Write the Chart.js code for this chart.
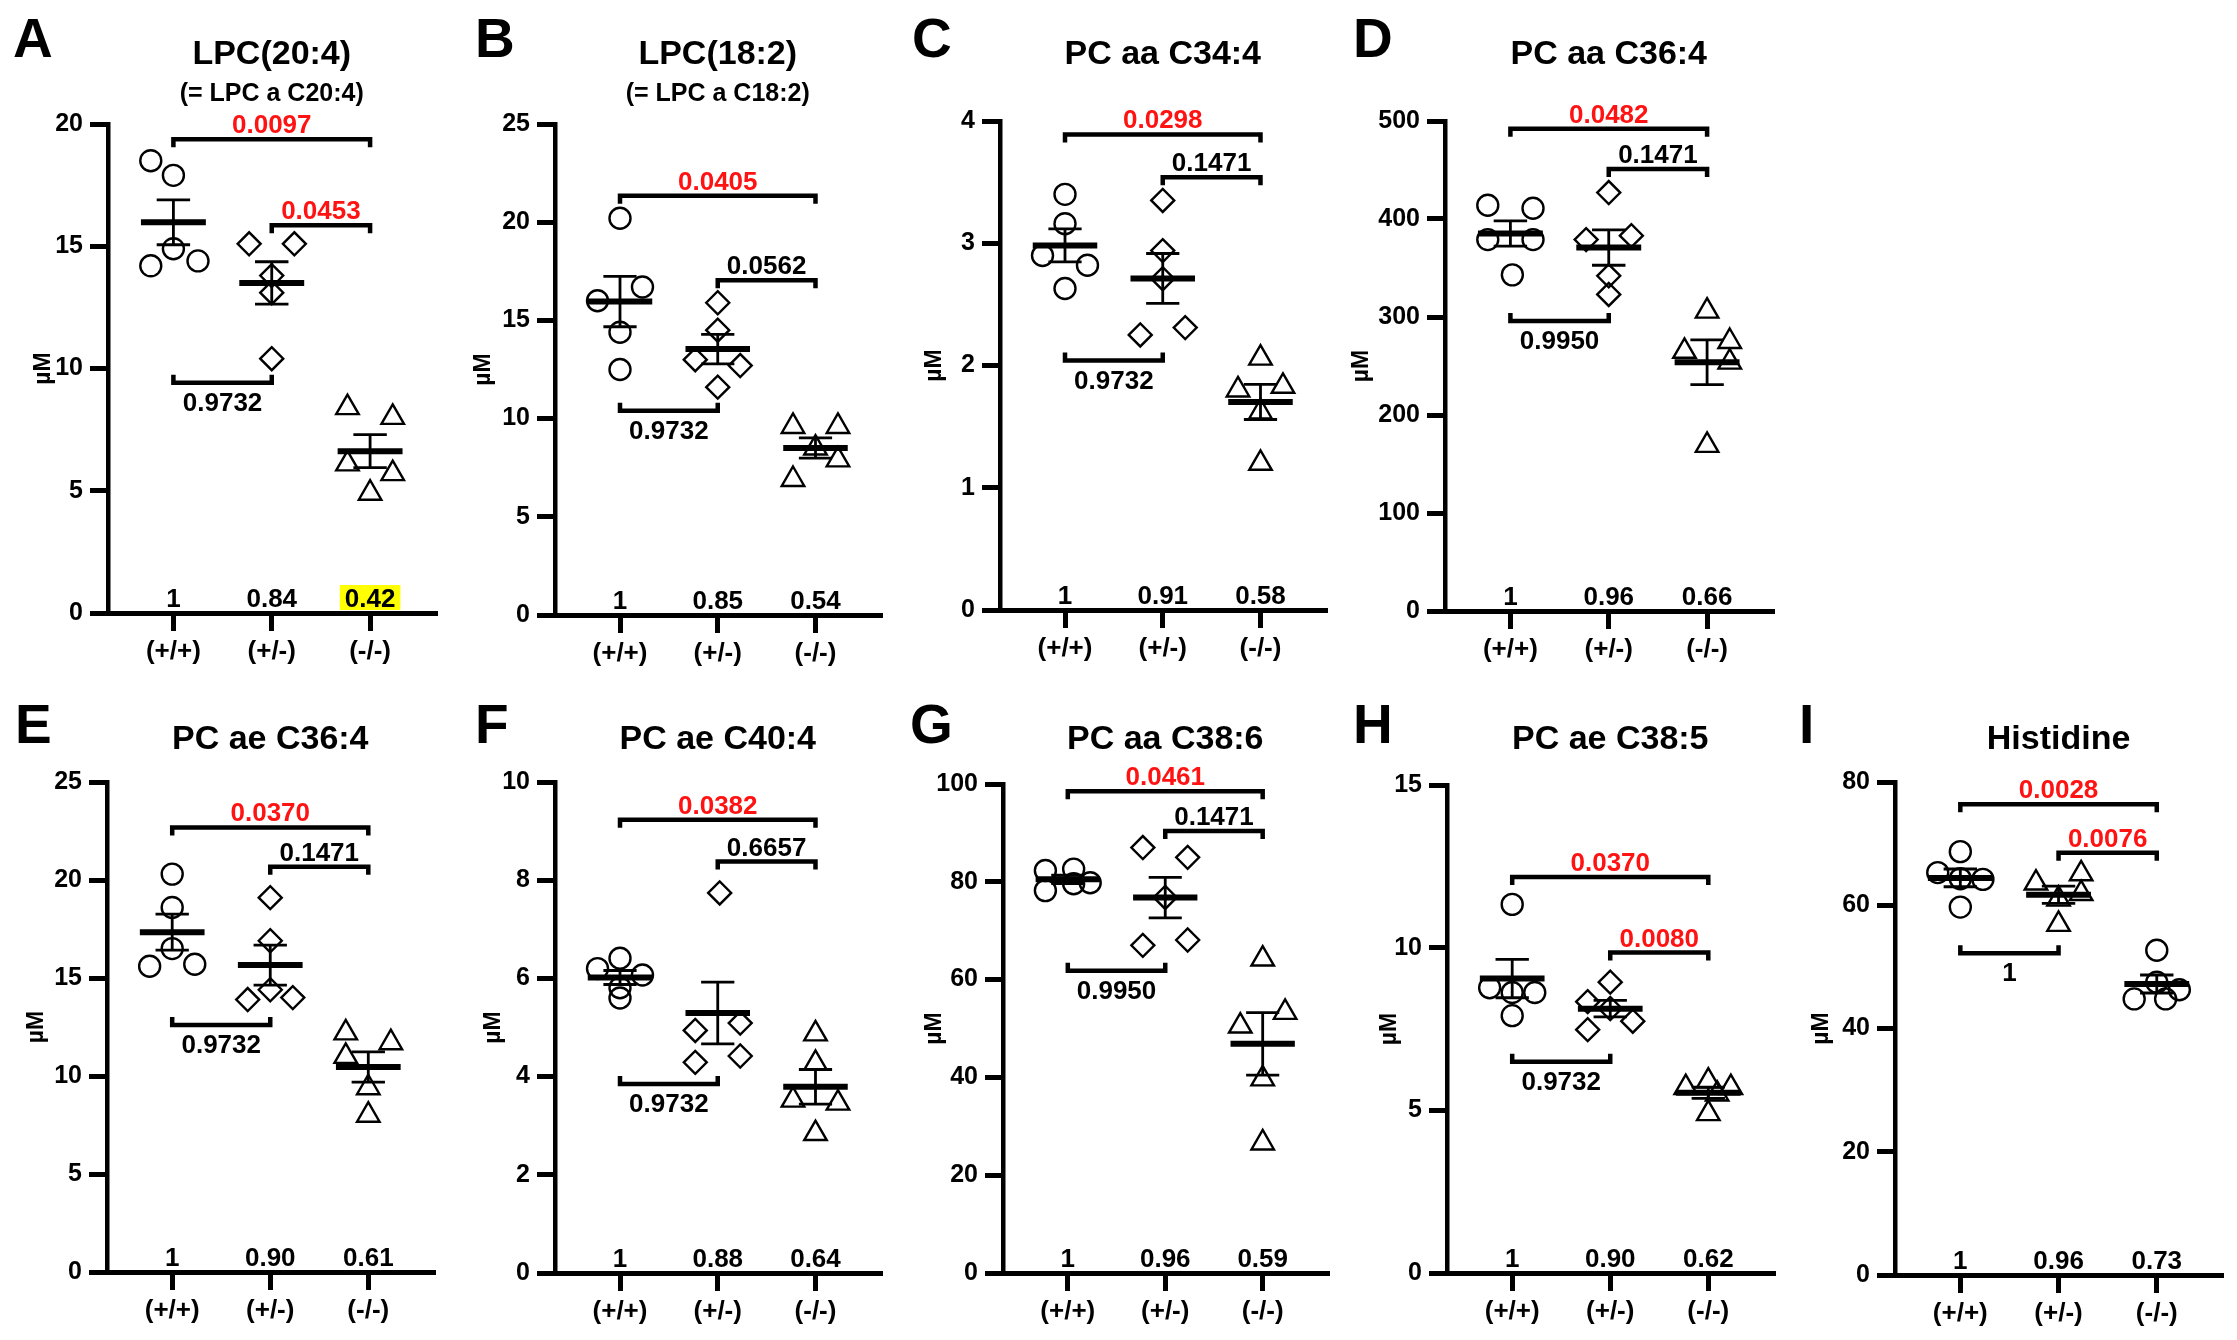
<!DOCTYPE html>
<html>
<head>
<meta charset="utf-8">
<title>Metabolite levels by genotype</title>
<script src="https://cdn.jsdelivr.net/npm/chart.js@4.4.1/dist/chart.umd.min.js"></script>
<style>
  html, body { margin: 0; padding: 0; background: #fff; }
  #page { position: relative; width: 2237px; height: 1340px; overflow: hidden; background: #fff; }
  #page canvas { position: absolute; left: 0; top: 0; }
</style>
</head>
<body>
<div id="page"></div>
<script>
// genotype groups on the x axis
const groups = ["(+/+)", "(+/-)", "(-/-)"];

// measured values (µM), one list per genotype: [+/+, +/-, -/-]
const lpc204 = [[18.5, 17.9, 14.9, 14.2, 14.4], [15.1, 15.1, 13.8, 13.1, 10.4], [8.4, 8.0, 6.1, 5.7, 4.9]];
const lpc182 = [[20.2, 16.7, 16.0, 14.4, 12.5], [15.9, 14.5, 13.0, 12.7, 11.6], [9.6, 9.6, 8.5, 7.9, 6.9]];
const pcaa344 = [[3.40, 3.16, 2.90, 2.82, 2.63], [3.35, 2.94, 2.71, 2.25, 2.31], [2.06, 1.80, 1.83, 1.62, 1.20]];
const pcaa364 = [[414, 411, 379, 379, 343], [427, 379, 383, 342, 323], [306, 265, 275, 254, 169]];
const pcae364 = [[20.3, 18.6, 16.5, 15.6, 15.7], [19.1, 16.9, 14.4, 13.9, 14.0], [12.2, 11.7, 11.0, 9.4, 8.0]];
const pcae404 = [[6.41, 6.20, 6.07, 5.81, 5.60], [7.74, 4.94, 5.09, 4.29, 4.42], [4.87, 4.27, 3.52, 3.46, 2.84]];
const pcaa386 = [[82.3, 82.6, 78.2, 79.6, 79.8], [87.0, 85.0, 76.8, 67.0, 68.1], [64.2, 50.5, 53.3, 39.7, 26.6]];
const pcae385 = [[11.33, 8.77, 8.62, 8.62, 7.91], [8.94, 8.34, 8.13, 7.74, 7.48], [5.9, 5.7, 5.7, 5.5, 4.9]];
const histidine = [[68.7, 65.3, 64.3, 64.2, 59.7], [63.6, 65.1, 61.0, 61.9, 56.9], [52.7, 47.5, 46.3, 44.8, 44.8]];

// y tick labels
const ticksA = [0, 5, 10, 15, 20];
const ticksB = [0, 5, 10, 15, 20, 25];
const ticksC = [0, 1, 2, 3, 4];
const ticksD = [0, 100, 200, 300, 400, 500];
const ticksE = [0, 5, 10, 15, 20, 25];
const ticksF = [0, 2, 4, 6, 8, 10];
const ticksG = [0, 20, 40, 60, 80, 100];
const ticksH = [0, 5, 10, 15];
const ticksI = [0, 20, 40, 60, 80];

// p values: [(+/+) vs (-/-), (+/-) vs (-/-), (+/+) vs (+/-)]
const pA = ["0.0097", "0.0453", "0.9732"];
const pB = ["0.0405", "0.0562", "0.9732"];
const pC = ["0.0298", "0.1471", "0.9732"];
const pD = ["0.0482", "0.1471", "0.9950"];
const pE = ["0.0370", "0.1471", "0.9732"];
const pF = ["0.0382", "0.6657", "0.9732"];
const pG = ["0.0461", "0.1471", "0.9950"];
const pH = ["0.0370", "0.0080", "0.9732"];
const pI = ["0.0028", "0.0076", "1"];

// fold change vs (+/+)
const foldA = ["1", "0.84", "0.42"];
const foldB = ["1", "0.85", "0.54"];
const foldC = ["1", "0.91", "0.58"];
const foldD = ["1", "0.96", "0.66"];
const foldE = ["1", "0.90", "0.61"];
const foldF = ["1", "0.88", "0.64"];
const foldG = ["1", "0.96", "0.59"];
const foldH = ["1", "0.90", "0.62"];
const foldI = ["1", "0.96", "0.73"];

// ---- layout (positions, not data) ----
const W = 2237, H = 1340;
const FONT = "'Liberation Sans', Arial, Helvetica, sans-serif";
const RED = "#ff1212";
const J = 0.23; // horizontal spread of overlapping points, in group units
const pairs = [[0, 2], [1, 2], [0, 1]];
const letterY = [42, 728];
const titleY = [55, 740];
const subY = 94;
const std3 = ["circle", "rectRot", "triangle"];

const panels = [
  { letter: "A", title: "LPC(20:4)", sub: "(= LPC a C20:4)", values: lpc204, ticks: ticksA, p: pA, fold: foldA,
    box: [108, 435, 124, 613], row: 0, wy: 78, ldx: 95, markers: std3, levels: [19.38, 15.86, 9.42], highlight: 2,
    jitter: [[-J, 0, 0, -J, J + 0.02], [-J, J, 0, 0, 0], [-J, J, -J, J, 0]] },
  { letter: "B", title: "LPC(18:2)", sub: "(= LPC a C18:2)", values: lpc182, ticks: ticksB, p: pB, fold: foldB,
    box: [555, 880, 124, 615], row: 0, wy: 85, ldx: 80, markers: std3, levels: [21.35, 17.04, 10.4],
    jitter: [[0, J, -J, 0, 0], [0, 0, -J, J, 0], [-J, J, 0, J, -J]] },
  { letter: "C", title: "PC aa C34:4", values: pcaa344, ticks: ticksC, p: pC, fold: foldC,
    box: [1000, 1325, 121, 610], row: 0, wy: 79, ldx: 88, markers: std3, levels: [3.89, 3.54, 2.04],
    jitter: [[0, 0, -J, J, 0], [0, 0, 0, -J, J], [0, -J, J, 0, 0]] },
  { letter: "D", title: "PC aa C36:4", values: pcaa364, ticks: ticksD, p: pD, fold: foldD,
    box: [1445, 1772, 121, 611], row: 0, wy: 97, ldx: 92, markers: std3, levels: [492, 451, 296],
    jitter: [[-J, J, -J, J, 0.02], [0, -J, J, 0, 0], [0, -J, J, J, 0]] },
  { letter: "E", title: "PC ae C36:4", values: pcae364, ticks: ticksE, p: pE, fold: foldE,
    box: [107, 433, 782, 1272], row: 1, wy: 84, ldx: 92, markers: std3, levels: [22.68, 20.67, 12.6],
    jitter: [[0, 0, 0, -J, J], [0, 0, 0, -J, J], [-J, J, -J, 0, 0]] },
  { letter: "F", title: "PC ae C40:4", values: pcae404, ticks: ticksF, p: pF, fold: foldF,
    box: [555, 880, 782, 1273], row: 1, wy: 75, ldx: 80, markers: std3, levels: [9.23, 8.38, 3.85],
    jitter: [[0, -J, J, 0, 0], [0.02, -J, J, -J, J], [0, 0, -J, J, 0]] },
  { letter: "G", title: "PC aa C38:6", values: pcaa386, ticks: ticksG, p: pG, fold: foldG,
    box: [1003, 1327, 784, 1273], row: 1, wy: 82, ldx: 93, markers: std3, levels: [98.5, 90.4, 61.8],
    jitter: [[-J, 0.06, -J, 0.06, J], [-J, J, 0, -J, J], [0, -J, J, 0, 0]] },
  { letter: "H", title: "PC ae C38:5", values: pcae385, ticks: ticksH, p: pH, fold: foldH,
    box: [1447, 1773, 785, 1273], row: 1, wy: 71, ldx: 94, markers: std3, levels: [12.17, 9.85, 6.49],
    jitter: [[0, -J, 0, J, 0], [0, -J, 0, J, -J], [0, -J, J, 0.09, 0]] },
  { letter: "I", title: "Histidine", values: histidine, ticks: ticksI, p: pI, fold: foldI,
    box: [1895, 2222, 782, 1275], row: 1, wy: 87, ldx: 96, markers: ["circle", "triangle", "circle"], levels: [76.4, 68.5, 52.2],
    jitter: [[0, -J, 0, J, 0], [-J, J, 0, J, 0], [0, 0, J, -J, 0.09]] }
];

const radius = { circle: 10.5, rectRot: 11.5, triangle: 13 };

function mean(a) { return a.reduce((s, v) => s + v, 0) / a.length; }
function sem(a) {
  const m = mean(a);
  const v = a.reduce((s, x) => s + (x - m) * (x - m), 0) / (a.length - 1);
  return Math.sqrt(v / a.length);
}

Chart.defaults.font.family = FONT;
Chart.defaults.font.weight = "bold";
Chart.defaults.color = "#000";

const decor = {
  id: "decor",
  afterDraw(chart) {
    const pn = chart.options.plugins.decor.panel;
    const ctx = chart.ctx, xs = chart.scales.x, ys = chart.scales.y, area = chart.chartArea;
    const midX = xs.getPixelForValue(1);
    ctx.save();
    ctx.fillStyle = "#000";

    // panel letter and titles
    ctx.textAlign = "left";
    ctx.textBaseline = "middle";
    ctx.font = "bold 55px " + FONT;
    ctx.fillText(pn.letter, area.left - pn.ldx, letterY[pn.row]);
    ctx.textAlign = "center";
    ctx.font = "bold 34px " + FONT;
    ctx.fillText(pn.title, midX, titleY[pn.row]);
    if (pn.sub) {
      ctx.font = "bold 25px " + FONT;
      ctx.fillText(pn.sub, midX, subY);
    }

    // comparison brackets with p values
    ctx.textBaseline = "alphabetic";
    pairs.forEach(([a, b], k) => {
      const y = ys.getPixelForValue(pn.levels[k]);
      const below = k === 2;
      const d = below ? -8 : 8;
      const x1 = xs.getPixelForValue(a), x2 = xs.getPixelForValue(b);
      ctx.beginPath();
      ctx.moveTo(x1, y + d);
      ctx.lineTo(x1, y);
      ctx.lineTo(x2, y);
      ctx.lineTo(x2, y + d);
      ctx.lineWidth = 4.5;
      ctx.strokeStyle = "#000";
      ctx.lineJoin = "miter";
      ctx.stroke();
      ctx.font = "bold 26px " + FONT;
      ctx.fillStyle = parseFloat(pn.p[k]) < 0.05 ? RED : "#000";
      ctx.fillText(pn.p[k], (x1 + x2) / 2, below ? y + 28 : y - 6);
    });

    // fold change labels above the x axis
    ctx.font = "bold 26px " + FONT;
    pn.fold.forEach((t, g) => {
      const x = xs.getPixelForValue(g);
      if (pn.highlight === g) {
        const w = ctx.measureText(t).width;
        ctx.fillStyle = "#ffff00";
        ctx.fillRect(x - w / 2 - 5, area.bottom - 28, w + 10, 25);
      }
      ctx.fillStyle = "#000";
      ctx.fillText(t, x, area.bottom - 6);
    });
    ctx.restore();
  }
};

const page = document.getElementById("page");

panels.forEach(pn => {
  const cv = document.createElement("canvas");
  cv.width = W;
  cv.height = H;
  page.appendChild(cv);
  const [left, right, top, bottom] = pn.box;

  const datasets = [];
  pn.values.forEach((vals, g) => {
    const m = mean(vals), s = sem(vals);
    datasets.push({
      type: "line",
      data: [{ x: g - 0.33, y: m }, { x: g + 0.33, y: m }],
      borderColor: "#000", borderWidth: 6, pointRadius: 0, tension: 0, clip: false
    });
    datasets.push({
      type: "line",
      data: [
        { x: g - 0.17, y: m + s }, { x: g + 0.17, y: m + s }, { x: g, y: null },
        { x: g, y: m + s }, { x: g, y: m - s }, { x: g, y: null },
        { x: g - 0.17, y: m - s }, { x: g + 0.17, y: m - s }
      ],
      borderColor: "#000", borderWidth: 2.8, pointRadius: 0, tension: 0, spanGaps: false, clip: false
    });
    const style = pn.markers[g];
    datasets.push({
      type: "scatter",
      data: vals.map((v, i) => ({ x: g + pn.jitter[g][i], y: v })),
      pointStyle: style,
      pointRadius: radius[style],
      pointHoverRadius: radius[style],
      borderColor: "#000",
      pointBorderColor: "#000",
      backgroundColor: "rgba(0,0,0,0)",
      pointBackgroundColor: "rgba(0,0,0,0)",
      borderWidth: 2.4,
      pointBorderWidth: 2.4,
      clip: false
    });
  });

  new Chart(cv.getContext("2d"), {
    type: "scatter",
    data: { datasets: datasets },
    plugins: [decor],
    options: {
      responsive: false,
      animation: false,
      devicePixelRatio: 1,
      events: [],
      layout: { padding: { left: left - pn.wy, right: W - right, top: top, bottom: H - bottom - 60 } },
      plugins: {
        legend: { display: false },
        tooltip: { enabled: false },
        decor: { panel: pn }
      },
      scales: {
        x: {
          type: "linear",
          min: -0.665,
          max: 2.66,
          afterBuildTicks: s => { s.ticks = groups.map((_, i) => ({ value: i })); },
          afterFit: s => { s.height = 60; },
          ticks: {
            callback: v => groups[v],
            autoSkip: false,
            maxRotation: 0,
            color: "#000",
            padding: 5,
            font: { size: 26, weight: "bold", family: FONT }
          },
          grid: { drawOnChartArea: false, drawTicks: true, tickLength: 18, lineWidth: 5, color: "#000" },
          border: { display: true, color: "#000", width: 5 }
        },
        y: {
          type: "linear",
          min: pn.ticks[0],
          max: pn.ticks[pn.ticks.length - 1],
          afterBuildTicks: s => { s.ticks = pn.ticks.map(v => ({ value: v })); },
          afterFit: s => { s.width = pn.wy; },
          ticks: {
            color: "#000",
            padding: 7,
            font: { size: 25, weight: "bold", family: FONT }
          },
          grid: { drawOnChartArea: false, drawTicks: true, tickLength: 18, lineWidth: 5, color: "#000" },
          border: { display: true, color: "#000", width: 4.5 },
          title: {
            display: true,
            text: "µM",
            color: "#000",
            padding: 0,
            font: { size: 23, weight: "bold", family: FONT }
          }
        }
      }
    }
  });
});
</script>
</body>
</html>
